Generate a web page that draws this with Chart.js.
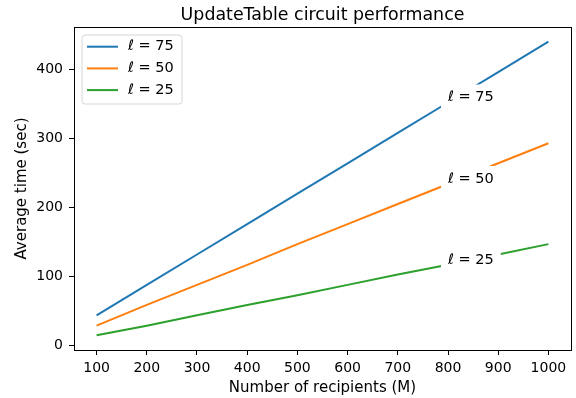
<!DOCTYPE html>
<html>
<head>
<meta charset="utf-8">
<script src="https://cdn.jsdelivr.net/npm/chart.js@4/dist/chart.umd.min.js"></script>
<style>
html,body{margin:0;padding:0;background:#fff;}
#wrap{width:576px;height:398px;position:relative;}
</style>
</head>
<body>
<div id="wrap"><canvas id="c" width="576" height="398"></canvas></div>
<script>
const recipients = [100, 200, 300, 400, 500, 600, 700, 800, 900, 1000];
const l75 = [44, 88, 132, 176, 220, 264, 308, 352, 396, 440];
const l50 = [29, 59, 88, 117, 147, 176, 205, 234, 264, 293];
const l25 = [15, 29, 44, 59, 73, 88, 103, 117, 132, 147];
const seriesNames = ['ℓ = 75', 'ℓ = 50', 'ℓ = 25'];
const xTicks = [100, 200, 300, 400, 500, 600, 700, 800, 900, 1000];
const yTicks = [0, 100, 200, 300, 400];
const labelAtX = 800;

const colors = ['#1f77b4', '#ff7f0e', '#2ca02c'];
const FONT = "'DejaVu Sans', sans-serif";
const allSeries = [l75, l50, l25];

const datasets = allSeries.map((s, i) => ({
  label: seriesNames[i],
  data: recipients.map((x, j) => ({x: x, y: s[j]})),
  borderColor: colors[i],
  backgroundColor: colors[i],
  borderWidth: 2,
  pointRadius: 0,
  tension: 0,
  fill: false
}));

const decor = {
  id: 'decor',
  afterDatasetsDraw(chart) {
    const ctx = chart.ctx;
    const a = chart.chartArea;
    const xs = chart.scales.x, ys = chart.scales.y;
    ctx.save();
    // inline labels
    ctx.font = '14.5px ' + FONT;
    ctx.textBaseline = 'middle';
    ctx.textAlign = 'left';
    allSeries.forEach((s, i) => {
      const idx = recipients.indexOf(labelAtX);
      const px = xs.getPixelForValue(labelAtX);
      const py = ys.getPixelForValue(s[idx]) - 5;
      const w = ctx.measureText(seriesNames[i]).width;
      ctx.fillStyle = '#fff';
      ctx.fillRect(px - 7, py - 13, w + 14, 26);
      ctx.fillStyle = '#000';
      ctx.fillText(seriesNames[i], px, py);
    });
    // frame
    ctx.strokeStyle = '#000';
    ctx.lineWidth = 1;
    ctx.strokeRect(Math.round(a.left) + 0.5, Math.round(a.top) + 0.5, Math.round(a.right - a.left), Math.round(a.bottom - a.top));
    // x tick labels (positioned by the x scale)
    ctx.font = '14px ' + FONT;
    ctx.fillStyle = '#000';
    ctx.textAlign = 'center';
    ctx.textBaseline = 'middle';
    xTicks.forEach(v => ctx.fillText(String(v), xs.getPixelForValue(v), a.bottom + 18));
    // legend
    const lx = 82, ly = 35, lw = 100, lh = 69, r = 3;
    ctx.beginPath();
    ctx.moveTo(lx + r, ly);
    ctx.arcTo(lx + lw, ly, lx + lw, ly + lh, r);
    ctx.arcTo(lx + lw, ly + lh, lx, ly + lh, r);
    ctx.arcTo(lx, ly + lh, lx, ly, r);
    ctx.arcTo(lx, ly, lx + lw, ly, r);
    ctx.closePath();
    ctx.fillStyle = 'rgba(255,255,255,0.8)';
    ctx.fill();
    ctx.strokeStyle = '#d6d6d6';
    ctx.stroke();
    seriesNames.forEach((n, i) => {
      const yy = 46.7 + i * 21.7;
      ctx.strokeStyle = colors[i];
      ctx.lineWidth = 2;
      ctx.beginPath();
      ctx.moveTo(87, yy);
      ctx.lineTo(118, yy);
      ctx.stroke();
      ctx.fillStyle = '#000';
      ctx.font = '14.5px ' + FONT;
      ctx.textAlign = 'left';
      ctx.textBaseline = 'middle';
      ctx.fillText(n, 128, yy);
    });
    // title
    ctx.font = '17.4px ' + FONT;
    ctx.textAlign = 'center';
    ctx.textBaseline = 'alphabetic';
    ctx.fillStyle = '#000';
    ctx.fillText('UpdateTable circuit performance', (a.left + a.right) / 2, 19.5);
    ctx.restore();
  }
};

new Chart(document.getElementById('c'), {
  type: 'line',
  data: { datasets },
  options: {
    responsive: false,
    animation: false,
    devicePixelRatio: 1,
    layout: { padding: { left: 0, right: 5, top: 27, bottom: 0 } },
    plugins: { legend: { display: false }, tooltip: { enabled: false }, title: { display: false } },
    scales: {
      x: {
        type: 'linear',
        min: 55, max: 1045,
        afterBuildTicks(scale) { scale.ticks = xTicks.map(v => ({value: v})); },
        afterFit(scale) { scale.height = 48; },
        border: { display: false },
        grid: { drawOnChartArea: false, drawTicks: true, tickLength: 5, color: '#000', tickWidth: 1 },
        ticks: { display: false },
        title: { display: true, text: 'Number of recipients (M)', color: '#000', font: { family: FONT, size: 15 }, padding: { top: 1, bottom: 1 } }
      },
      y: {
        type: 'linear',
        min: -6.25, max: 461.25,
        afterBuildTicks(scale) { scale.ticks = yTicks.map(v => ({value: v})); },
        afterFit(scale) { scale.width = 74; },
        border: { display: false },
        grid: { drawOnChartArea: false, drawTicks: true, tickLength: 5, color: '#000', tickWidth: 1 },
        ticks: { color: '#000', font: { family: FONT, size: 14 }, padding: 6, callback: v => String(v) },
        title: { display: true, text: 'Average time (sec)', color: '#000', font: { family: FONT, size: 15 }, padding: { top: 13, bottom: 4 } }
      }
    }
  },
  plugins: [decor]
});
</script>
</body>
</html>
